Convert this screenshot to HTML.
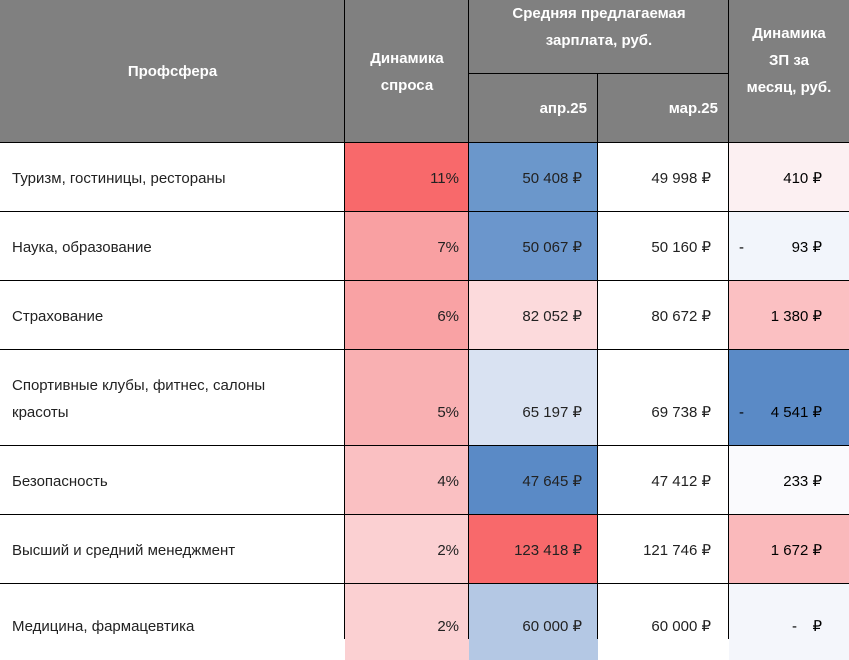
<!DOCTYPE html>
<html><head><meta charset="utf-8"><style>
body{margin:0;width:849px;height:639px;overflow:hidden;background:#fff;font-family:"Liberation Sans",Arial,sans-serif;}
.c{position:absolute;box-sizing:border-box;font-size:15px;color:#222;}
.h{background:#808080;color:#fff;font-weight:bold;display:flex;align-items:center;justify-content:center;text-align:center;line-height:27px;}
.ln{position:absolute;background:#000;}
.t{position:absolute;white-space:nowrap;font-size:15px;color:#222;line-height:27px;}
</style></head><body>
<div id="tbl"></div>
<script>
const labels=[["Туризм, гостиницы, рестораны"],["Наука, образование"],["Страхование"],["Спортивные клубы, фитнес, салоны","красоты"],["Безопасность"],["Высший и средний менеджмент"],["Медицина, фармацевтика"]];
const demand=["11%","7%","6%","5%","4%","2%","2%"];
const apr=["50 408 ₽","50 067 ₽","82 052 ₽","65 197 ₽","47 645 ₽","123 418 ₽","60 000 ₽"];
const mar=["49 998 ₽","50 160 ₽","80 672 ₽","69 738 ₽","47 412 ₽","121 746 ₽","60 000 ₽"];
const delta=["410 ₽","93 ₽","1 380 ₽","4 541 ₽","233 ₽","1 672 ₽","₽"];
const neg=[false,true,false,true,false,false,true];
const cDem=["#f8696b","#f9a0a2","#f9a2a4","#f9b0b2","#fac0c2","#fbd0d2","#fbd0d2"];
const cApr=["#6b97cb","#6b96cc","#fcdadc","#d9e2f2","#5a8ac6","#f8696b","#b4c8e4"];
const cDel=["#fcf0f2","#f2f5fb","#fbc0c2","#5a8ac6","#fafafd","#fab9bb","#f4f6fb"];
const rowY=[143,212,281,350,446,515,584,660];
const colX=[0,345,469,598,729,849];
const T=document.getElementById('tbl');
function cell(x,y,w,h,bg,name){const d=document.createElement('div');d.className='c';d.style.cssText=`left:${x}px;top:${y}px;width:${w}px;height:${h}px;background:${bg}`;


T.appendChild(d);return d;}
function txt(s,x,y,align,name,bold,color){const d=document.createElement('div');d.className='t';d.textContent=s;
if(align==='right'){d.style.right=(849-x)+'px';}else{d.style.left=x+'px';}
d.style.top=(y-13.5)+'px';if(bold){d.style.fontWeight='bold';}if(color){d.style.color=color;}


T.appendChild(d);}
function hdr(x,y,w,h,html,name){const d=cell(x,y,w,h,'#808080',name);d.classList.add('h');d.innerHTML=html;return d;}
hdr(0,0,345,143,'Профсфера','header-profsfera');
hdr(345,0,124,143,'Динамика<br>спроса','header-demand');
const g=hdr(469,0,260,74,'Средняя предлагаемая<br>зарплата, руб.','header-salary-group');g.style.alignItems='flex-start';g.style.paddingTop='0px';
const a=hdr(469,74,129,69,'апр.25','header-apr');a.style.justifyContent='flex-end';a.style.paddingRight='11px';a.style.alignItems='flex-start';a.style.paddingTop='21px';
const m=hdr(598,74,131,69,'мар.25','header-mar');m.style.justifyContent='flex-end';m.style.paddingRight='11px';m.style.alignItems='flex-start';m.style.paddingTop='21px';
const dd=hdr(729,0,120,143,'Динамика<br>ЗП за<br>месяц, руб.','header-delta');dd.style.alignItems='flex-start';dd.style.paddingTop='20px';
for(let i=0;i<labels.length;i++){
 const y=rowY[i],h=rowY[i+1]-y,by=rowY[i+1]-34;
 cell(345,y,124,h,cDem[i],'demand-cell');
 cell(469,y,129,h,cApr[i],'apr-cell');
 cell(729,y,120,h,cDel[i],'delta-cell');
 const L=labels[i];
 for(let k=0;k<L.length;k++) txt(L[k],12,by-(L.length-1-k)*27,'left','row-label');
 txt(demand[i],459,by,'right','demand-value');
 txt(apr[i],582,by,'right','apr-value');
 txt(mar[i],711,by,'right','mar-value');
 txt(delta[i],i===6?822:822,by,'right','delta-value',false,'#000');
 if(neg[i]) txt('-',i===6?792:739,by,'left','delta-minus',false,'#000');
}
function ln(x,y,w,h){const d=document.createElement('div');d.className='ln';d.style.cssText=`left:${x}px;top:${y}px;width:${w}px;height:${h}px`;


T.appendChild(d);}
[345,469,729].forEach(x=>ln(x-1,0,1,639));
ln(597,74,1,565);
ln(469,73,260,1);
rowY.slice(0,7).forEach(y=>ln(0,y-1,849,1));
</script>
</body></html>
